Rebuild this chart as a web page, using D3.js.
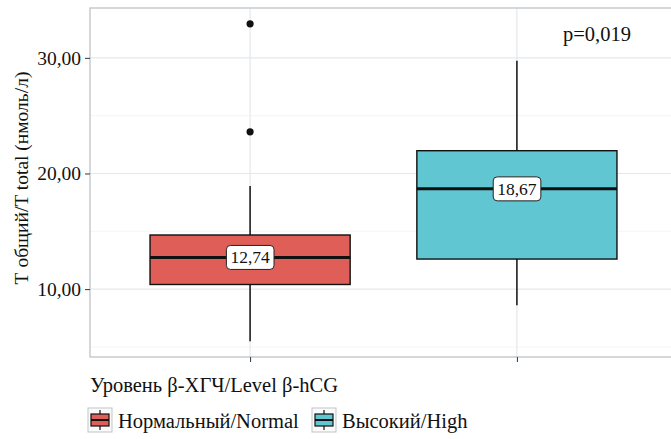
<!DOCTYPE html>
<html><head><meta charset="utf-8">
<script src="https://cdn.jsdelivr.net/npm/d3@7"></script>
<style>body{margin:0;background:#fff}svg{display:block}text{font-family:"Liberation Serif","Times New Roman",serif;fill:#111}</style>
</head><body><svg id="c" width="671" height="439"></svg>
<script>
const categories = ["Нормальный/Normal", "Высокий/High"];
const whiskerLow = [5.5, 8.6];
const q1 = [10.4, 12.6];
const medians = [12.74, 18.67];
const q3 = [14.68, 21.97];
const whiskerHigh = [18.92, 29.74];
const outliers = [[32.94, 23.6], []];
const medianLabels = ["12,74", "18,67"];
const colors = ["#DF5E57", "#5FC6D2"];
const yTicks = [10, 20, 30];
const yMinor = [5, 15, 25];
const yTickLabels = ["10,00", "20,00", "30,00"];
const yTitle = "Т общий/T total (нмоль/л)";
const legendTitle = "Уровень β-ХГЧ/Level β-hCG";
const pText = "p=0,019";

const svg = d3.select("#c");
const L = 90, T = 8, B = 357, R = 677;
const x = d3.scalePoint().domain(categories).range([L, R]).padding(0.6);
const y = d3.scaleLinear().domain([4.13, 34.31]).range([B, T]);
const bw = x.step() * 0.75;

// grid
const g = svg.append("g");
g.selectAll(".minor").data(yMinor).join("line")
  .attr("x1", L).attr("x2", 671).attr("y1", d => y(d)).attr("y2", d => y(d))
  .attr("stroke", "#F1F3F4").attr("stroke-width", 0.8);
g.selectAll(".major").data(yTicks).join("line")
  .attr("x1", L).attr("x2", 671).attr("y1", d => y(d)).attr("y2", d => y(d))
  .attr("stroke", "#E3E8EB").attr("stroke-width", 1.2);
g.selectAll(".vx").data(categories).join("line")
  .attr("x1", d => x(d)).attr("x2", d => x(d)).attr("y1", T).attr("y2", B)
  .attr("stroke", "#E3E8EB").attr("stroke-width", 1.2);

// panel border
svg.append("rect").attr("x", L).attr("y", T).attr("width", R - L).attr("height", B - T)
  .attr("fill", "none").attr("stroke", "#BFC4C7").attr("stroke-width", 1.3);

// axes
const yAxis = d3.axisLeft(y).tickValues(yTicks).tickFormat((d, i) => yTickLabels[i]).tickSize(5).tickPadding(4);
const ya = svg.append("g").attr("transform", `translate(${L},0)`).call(yAxis);
ya.select(".domain").remove();
ya.selectAll("line").attr("stroke", "#333");
ya.selectAll("text").attr("font-size", 19.5).attr("fill", "#111").attr("font-family", "Liberation Serif");
const xAxis = d3.axisBottom(x).tickSize(5).tickFormat("");
const xa = svg.append("g").attr("transform", `translate(0,${B})`).call(xAxis);
xa.select(".domain").remove();
xa.selectAll("line").attr("stroke", "#333");

// boxes
const data = categories.map((c, i) => ({c, i}));
const bx = svg.append("g").selectAll("g").data(data).join("g");
bx.append("line").attr("x1", d => x(d.c)).attr("x2", d => x(d.c))
  .attr("y1", d => y(whiskerHigh[d.i])).attr("y2", d => y(q3[d.i])).attr("stroke", "#111").attr("stroke-width", 1.5);
bx.append("line").attr("x1", d => x(d.c)).attr("x2", d => x(d.c))
  .attr("y1", d => y(q1[d.i])).attr("y2", d => y(whiskerLow[d.i])).attr("stroke", "#111").attr("stroke-width", 1.5);
bx.append("rect").attr("x", d => x(d.c) - bw / 2).attr("width", bw)
  .attr("y", d => y(q3[d.i])).attr("height", d => y(q1[d.i]) - y(q3[d.i]))
  .attr("fill", d => colors[d.i]).attr("stroke", "#111").attr("stroke-width", 1.4);
bx.append("line").attr("x1", d => x(d.c) - bw / 2).attr("x2", d => x(d.c) + bw / 2)
  .attr("y1", d => y(medians[d.i])).attr("y2", d => y(medians[d.i])).attr("stroke", "#111").attr("stroke-width", 3);
bx.selectAll("circle").data(d => outliers[d.i].map(v => ({c: d.c, v}))).join("circle")
  .attr("cx", d => x(d.c)).attr("cy", d => y(d.v)).attr("r", 3.6).attr("fill", "#111");

// median labels
bx.each(function(d) {
  const gg = d3.select(this);
  const t = gg.append("text").attr("x", x(d.c)).attr("y", y(medians[d.i]) + 6)
    .attr("text-anchor", "middle").attr("font-size", 17.5).text(medianLabels[d.i]);
  const bb = t.node().getBBox();
  gg.insert("rect", "text").attr("x", bb.x - 4).attr("y", y(medians[d.i]) - 12)
    .attr("width", bb.width + 8).attr("height", 24).attr("rx", 4)
    .attr("fill", "#fff").attr("stroke", "#222").attr("stroke-width", 1);
  gg.append(() => t.node());
});

// p-value
svg.append("text").attr("x", 597).attr("y", 41).attr("text-anchor", "middle")
  .attr("font-size", 20.5).text(pText);

// y title
svg.append("text").attr("transform", "translate(28,178) rotate(-90)").attr("text-anchor", "middle")
  .attr("font-size", 19.5).text(yTitle);

// legend
svg.append("text").attr("x", 90).attr("y", 392).attr("font-size", 20.5).text(legendTitle);
const lx = [88, 312];
const lg = svg.append("g").selectAll("g").data(data).join("g")
  .attr("transform", d => `translate(${lx[d.i]},408)`);
lg.append("rect").attr("width", 24).attr("height", 24).attr("fill", "#fafafa").attr("stroke", "#BFC4C7").attr("stroke-width", 1);
lg.append("line").attr("x1", 12).attr("x2", 12).attr("y1", 2).attr("y2", 22).attr("stroke", "#111").attr("stroke-width", 1.2);
lg.append("rect").attr("x", 3).attr("y", 6).attr("width", 18).attr("height", 12)
  .attr("fill", d => colors[d.i]).attr("stroke", "#111").attr("stroke-width", 1.2);
lg.append("line").attr("x1", 3).attr("x2", 21).attr("y1", 12).attr("y2", 12).attr("stroke", "#111").attr("stroke-width", 2);
lg.append("text").attr("x", 30).attr("y", 20).attr("font-size", 20.5).text(d => d.c);
</script></body></html>
